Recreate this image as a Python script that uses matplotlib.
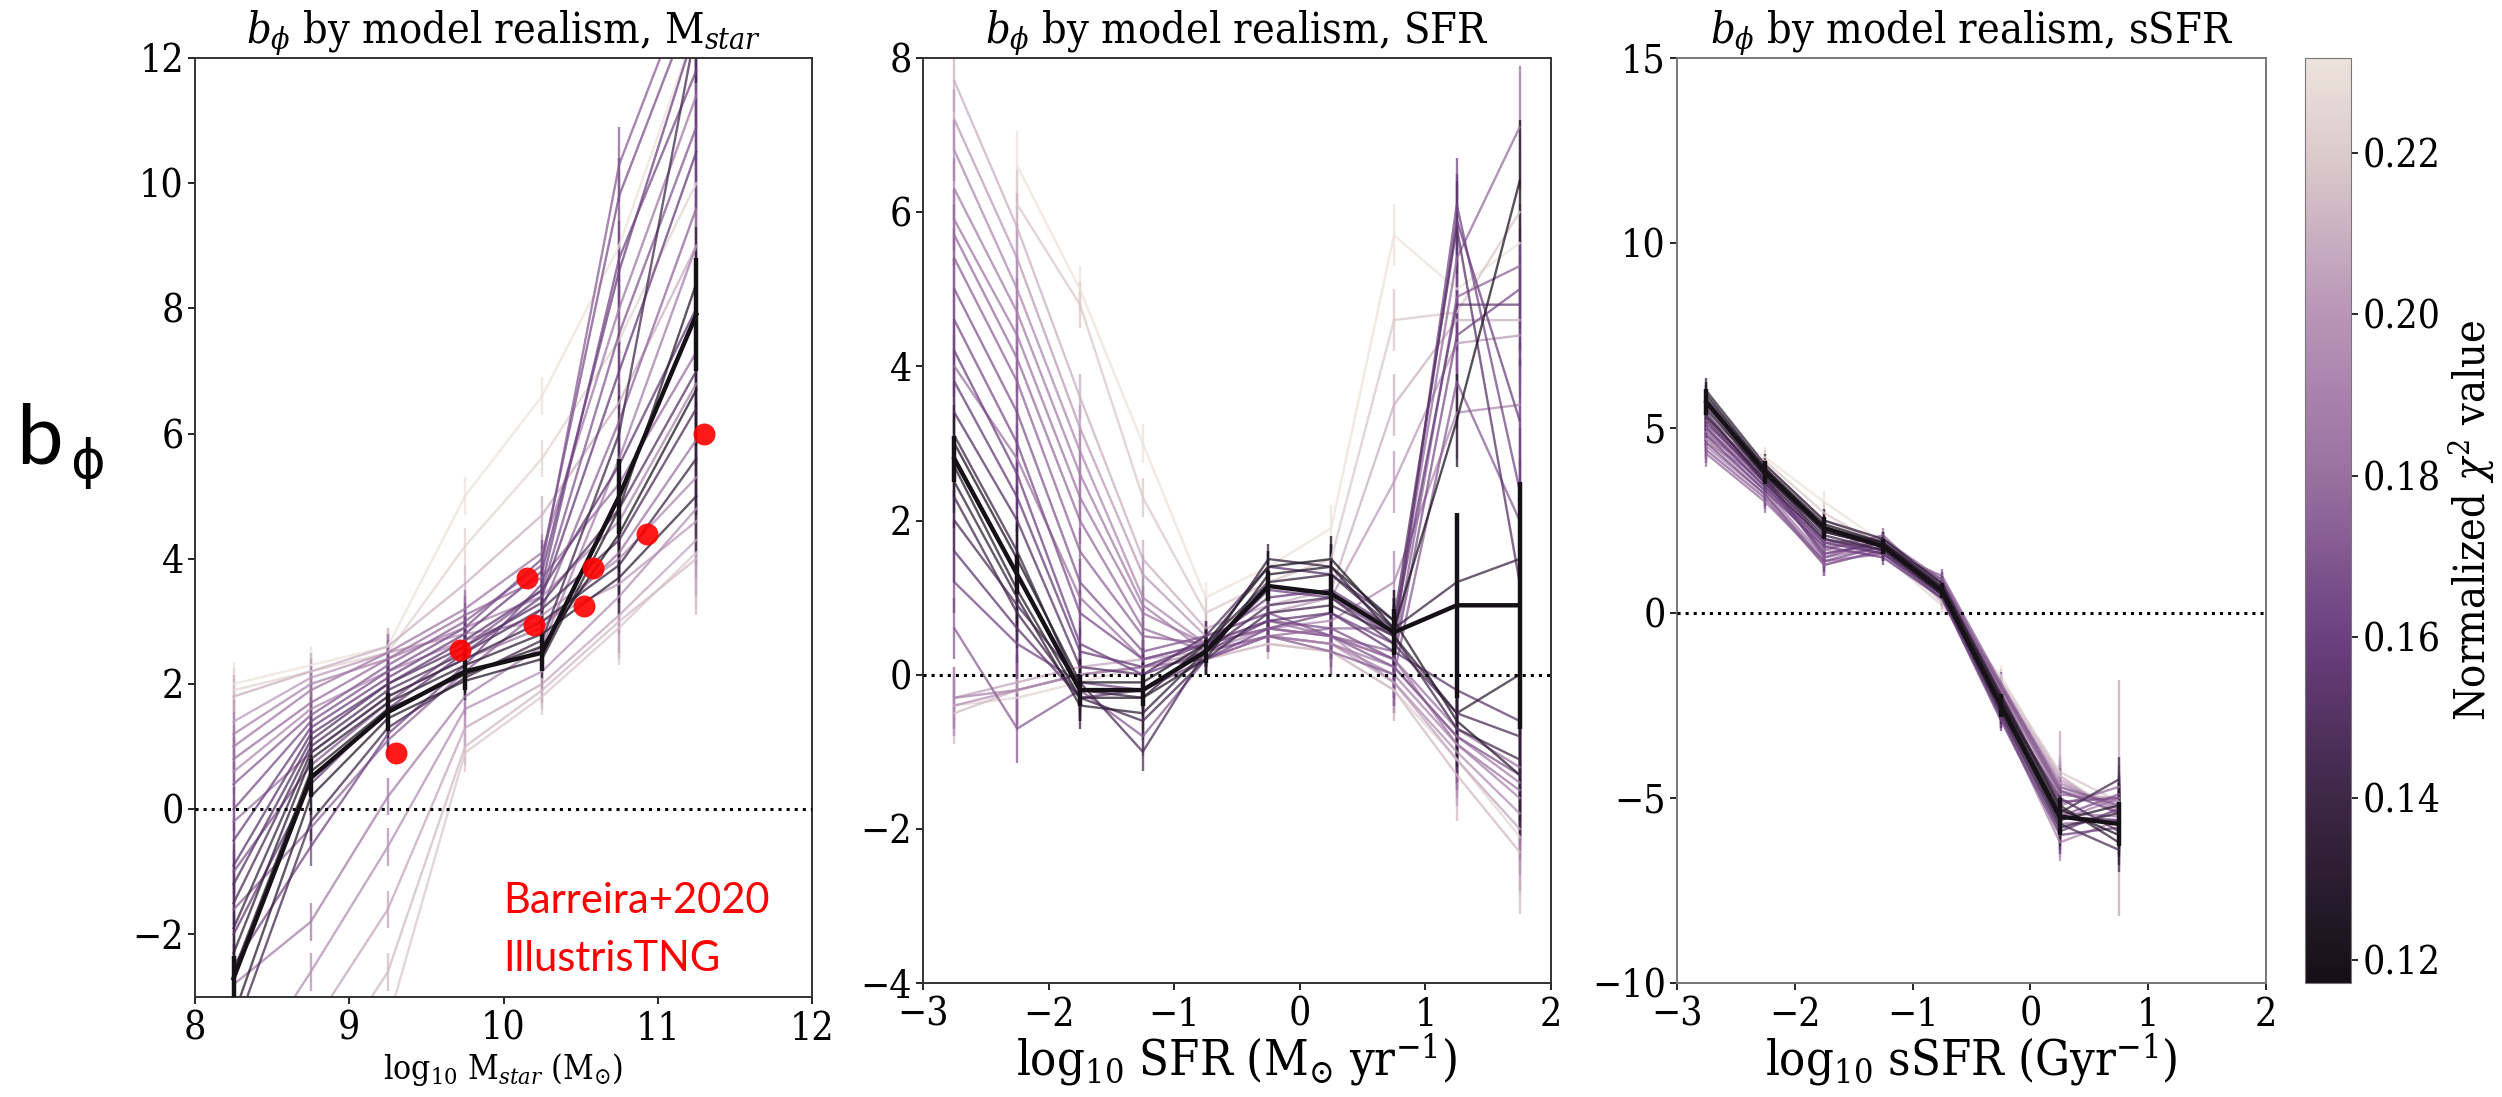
import numpy as np
import matplotlib
matplotlib.use("Agg")
import matplotlib.pyplot as plt
from matplotlib.colors import Normalize, LinearSegmentedColormap
from matplotlib.cm import ScalarMappable

plt.rcParams["font.family"] = "DejaVu Serif"
plt.rcParams["font.stretch"] = "condensed"
plt.rcParams["mathtext.fontset"] = "custom"
plt.rcParams["mathtext.rm"] = "DejaVu Serif:stretch=condensed"
plt.rcParams["mathtext.it"] = "DejaVu Serif:style=italic:stretch=condensed"
plt.rcParams["mathtext.bf"] = "DejaVu Serif:weight=bold:stretch=condensed"

# normalized chi^2 of each model (model 0 = best fit, drawn thick)
CHI2 = [0.118, 0.123, 0.129, 0.134, 0.139, 0.143, 0.147, 0.151, 0.155, 0.158,
        0.161, 0.164, 0.167, 0.170, 0.173, 0.176, 0.179, 0.182, 0.185, 0.188,
        0.191, 0.194, 0.198, 0.202, 0.206, 0.210, 0.214, 0.219, 0.225, 0.231]

# --- panel 1: stellar mass bins
MSTAR_X = [8.25, 8.75, 9.25, 9.75, 10.25, 10.75, 11.25]
MSTAR_B = [
    [-2.7, 0.5, 1.55, 2.2, 2.5, 5.0, 7.9],
    [-2.6, 0.6, 1.6, 2.15, 2.6, 4.4, 6.7],
    [-3.3, 0.2, 1.45, 2.05, 2.4, 4.8, 8.4],
    [-2.3, 0.8, 1.7, 2.3, 2.8, 3.7, 5.0],
    [-1.9, 0.9, 1.8, 2.4, 3.0, 3.9, 5.6],
    [-3.6, -0.2, 1.3, 2.1, 2.7, 6.0, 12.5],
    [-1.5, 1.0, 1.9, 2.5, 3.2, 4.3, 6.4],
    [-1.2, 1.1, 2.0, 2.6, 3.3, 4.8, 7.0],
    [-0.9, 1.2, 2.0, 2.7, 3.5, 5.5, 8.0],
    [-2.0, 0.4, 1.6, 2.5, 3.4, 7.0, 10.5],
    [-0.5, 1.3, 2.1, 2.8, 3.8, 8.6, 12.5],
    [-2.5, -0.6, 1.2, 2.3, 3.6, 8.8, 11.8],
    [0.0, 1.4, 2.2, 2.9, 4.0, 9.8, 13.0],
    [-1.0, 0.7, 1.7, 2.6, 3.5, 7.6, 10.9],
    [0.4, 1.5, 2.3, 3.0, 3.9, 10.3, 13.5],
    [-1.6, -0.3, 1.1, 2.2, 3.2, 6.2, 9.6],
    [0.8, 1.7, 2.4, 3.1, 3.7, 5.2, 7.3],
    [-0.2, 0.9, 1.8, 2.4, 2.9, 4.1, 5.9],
    [1.0, 1.9, 2.5, 3.2, 4.1, 8.0, 11.4],
    [-2.8, -1.8, 0.2, 1.8, 2.6, 5.6, 9.0],
    [1.2, 2.0, 2.4, 2.9, 3.4, 4.6, 6.8],
    [0.6, 1.6, 2.2, 2.7, 3.1, 4.0, 5.3],
    [-4.5, -2.6, -0.6, 1.6, 2.2, 3.4, 4.8],
    [1.4, 2.1, 2.5, 2.8, 3.0, 3.6, 4.6],
    [-5.5, -3.5, -1.6, 1.3, 2.0, 3.1, 4.3],
    [1.8, 2.2, 2.6, 3.6, 4.7, 6.5, 9.0],
    [-6.0, -4.5, -2.6, 1.0, 1.9, 3.0, 4.0],
    [-7.0, -5.5, -3.4, 0.9, 1.8, 2.9, 4.1],
    [1.9, 2.2, 2.5, 4.2, 5.6, 7.5, 10.0],
    [2.0, 2.3, 2.6, 5.0, 6.6, 9.0, 12.5],
]
MSTAR_ERR = [0.35, 0.3, 0.3, 0.3, 0.3, 0.6, 0.9]

# Barreira+2020 IllustrisTNG points
TNG_X = [9.3, 9.72, 10.15, 10.2, 10.52, 10.58, 10.93, 11.3]
TNG_B = [0.9, 2.55, 3.7, 2.95, 3.25, 3.85, 4.4, 6.0]

# --- panel 2: SFR bins
SFR_X = [-2.75, -2.25, -1.75, -1.25, -0.75, -0.25, 0.25, 0.75, 1.25, 1.75]
SFR_B = [
    [2.8, 1.3, -0.2, -0.2, 0.3, 1.15, 1.05, 0.55, 0.9, 0.9],
    [3.0, 1.5, -0.1, -0.1, 0.4, 1.4, 1.5, 0.6, 3.3, 6.4],
    [2.7, 1.1, -0.3, -0.3, 0.2, 1.3, 1.4, 0.7, -0.6, -1.3],
    [2.5, 1.0, -0.4, -0.5, 0.3, 1.5, 1.4, 0.5, -0.5, 0.0],
    [3.1, 1.6, -0.2, -0.3, 0.4, 1.2, 1.3, 0.6, 1.2, 1.5],
    [2.3, 0.8, -0.3, -0.6, 0.2, 0.8, 0.9, 0.5, -0.7, -1.1],
    [2.0, 0.9, -0.1, -1.0, 0.3, 0.9, 1.0, 0.4, -0.5, -0.8],
    [3.4, 2.0, 0.1, 0.0, 0.5, 1.4, 1.3, 0.7, 5.8, 1.2],
    [1.6, 0.6, -0.3, -0.2, 0.3, 0.7, 0.8, 0.3, -0.2, -0.6],
    [3.8, 2.3, 0.3, 0.1, 0.4, 1.0, 1.1, 0.6, 4.8, 4.8],
    [4.2, 2.6, 0.4, 0.0, 0.3, 1.1, 1.0, 0.5, 5.9, 3.3],
    [1.2, 0.4, -0.1, -0.2, 0.2, 0.6, 0.8, 0.4, 6.1, 2.4],
    [4.6, 3.0, 0.8, 0.2, 0.4, 0.7, 0.6, 0.2, 4.4, 5.0],
    [5.0, 3.4, 1.2, 0.3, 0.5, 0.8, 0.5, 0.1, -0.8, -1.3],
    [0.6, -0.7, -0.2, -0.8, 0.2, 0.5, 0.3, 0.0, 3.8, 2.0],
    [5.4, 3.8, 1.6, 0.5, 0.4, 0.6, 0.5, 0.3, 4.9, 5.3],
    [5.7, 4.1, 2.0, 0.6, 0.3, 0.5, 0.6, 0.6, 5.4, 7.1],
    [4.0, 2.8, 1.0, 0.2, 0.4, 0.7, 0.5, 0.2, -0.7, -1.2],
    [5.9, 4.4, 2.3, 0.8, 0.4, 0.6, 0.5, 0.2, -0.9, -1.5],
    [6.3, 4.7, 2.6, 0.9, 0.3, 0.5, 0.4, 0.1, -0.8, -1.4],
    [-0.3, -0.2, 0.0, 0.1, 0.2, 0.5, 0.4, 0.0, -0.9, -1.6],
    [6.8, 5.0, 2.9, 1.0, 0.4, 0.6, 0.7, 1.2, 3.4, 3.5],
    [-0.4, -0.2, 0.0, 0.1, 0.3, 0.6, 0.5, -0.1, -1.0, -1.8],
    [7.2, 5.4, 3.2, 1.3, 0.5, 0.8, 1.0, 2.5, 4.3, 4.4],
    [-0.3, -0.1, 0.1, 0.2, 0.3, 0.5, 0.4, -0.1, -1.1, -2.0],
    [7.7, 5.8, 3.6, 1.5, 0.6, 0.9, 1.1, 3.5, 4.6, 4.6],
    [-0.5, -0.2, 0.0, 0.1, 0.2, 0.4, 0.3, -0.2, -1.3, -2.3],
    [np.nan, 6.1, 4.8, 2.3, 0.8, 1.2, 1.5, 4.6, 4.7, 6.0],
    [-0.4, -0.3, -0.1, 0.1, 0.2, 0.4, 0.3, -0.2, -1.1, -2.1],
    [np.nan, 6.6, 5.0, 3.0, 1.0, 1.4, 1.9, 5.7, 5.0, 5.6],
]
SFR_ERR = [0.4, 0.45, 0.3, 0.25, 0.2, 0.2, 0.3, 0.4, 0.6, 0.8]
SFR_ERR_BEST = [0.3, 0.25, 0.2, 0.2, 0.15, 0.2, 0.25, 0.3, 1.2, 1.6]

# --- panel 3: sSFR bins
SSFR_X = [-2.75, -2.25, -1.75, -1.25, -0.75, -0.25, 0.25, 0.75]
SSFR_B = [
    [5.7, 3.8, 2.3, 1.8, 0.6, -2.5, -5.5, -5.7],
    [5.9, 3.9, 2.4, 1.9, 0.7, -2.3, -5.3, -6.0],
    [5.5, 3.7, 2.2, 1.8, 0.5, -2.6, -5.6, -5.2],
    [6.0, 4.0, 2.5, 2.0, 0.8, -2.2, -5.2, -6.2],
    [5.3, 3.6, 2.1, 1.7, 0.5, -2.7, -5.8, -5.4],
    [5.8, 3.9, 2.3, 1.9, 0.6, -2.4, -5.4, -4.5],
    [5.4, 3.5, 2.0, 1.7, 0.5, -2.5, -5.7, -6.4],
    [5.6, 3.7, 2.2, 1.8, 0.6, -2.4, -5.0, -5.9],
    [5.2, 3.5, 2.0, 1.6, 0.5, -2.6, -5.5, -5.6],
    [5.0, 3.4, 1.9, 1.6, 0.4, -2.8, -5.9, -5.3],
    [4.8, 3.3, 1.8, 1.5, 0.4, -2.9, -6.0, -5.8],
    [5.1, 3.6, 1.6, 1.9, 0.8, -2.3, -5.1, -5.0],
    [4.6, 3.2, 1.4, 1.8, 0.9, -2.0, -4.8, -5.4],
    [5.3, 3.7, 1.5, 2.0, 0.7, -2.6, -5.5, -4.9],
    [4.4, 3.1, 1.3, 1.7, 1.0, -1.9, -4.7, -5.2],
    [4.9, 3.4, 1.7, 2.1, 0.6, -2.7, -5.7, -5.6],
    [4.3, 3.0, 1.4, 1.6, 0.8, -2.2, -5.2, -4.7],
    [5.6, 3.9, 1.9, 2.0, 0.9, -2.1, -4.9, -5.1],
    [4.7, 3.3, 1.5, 1.8, 0.7, -2.4, -5.4, -5.5],
    [5.0, 3.5, 1.6, 1.9, 0.8, -2.5, -5.6, -5.0],
    [4.5, 3.2, 1.3, 1.7, 0.6, -2.8, -6.2, -5.6],
    [5.2, 3.6, 1.8, 1.9, 0.7, -2.0, -4.6, -5.3],
    [4.8, 3.7, 1.9, 1.7, 0.5, -2.2, -4.8, -5.2],
    [5.1, 3.9, 2.2, 1.8, 0.4, -2.0, -4.5, -5.4],
    [4.6, 3.6, 1.7, 1.6, 0.5, -2.3, -4.9, -5.0],
    [5.3, 4.0, 2.5, 1.9, 0.3, -1.9, -4.4, -5.5],
    [4.9, 3.8, 2.0, 1.7, 0.4, -2.1, -4.7, -5.3],
    [5.0, 4.1, 2.7, 1.8, 0.3, -1.8, -4.3, -5.1],
    [4.7, 3.9, 2.4, 1.6, 0.2, -2.0, -4.6, -5.2],
    [5.2, 4.2, 3.0, 1.9, 0.3, -1.7, -4.4, -5.4],
]
SSFR_ERR = [0.35, 0.3, 0.3, 0.2, 0.2, 0.3, 0.5, 0.6]
SSFR_ERR_WIDE = [0.4, 0.3, 0.4, 0.2, 0.2, 0.3, 1.7, 3.2]

# colour stops picked off the reference colourbar
CMAP_POS = [0.0, 0.025, 0.2, 0.374, 0.548, 0.723, 0.897, 1.0]
CMAP_HEX = ["#141016", "#19131a", "#3e2747", "#6c3f80", "#9a70a0",
            "#b895b8", "#dccbcb", "#ece3dc"]

W, H = 2502, 1097
fig = plt.figure(figsize=(W / 100, H / 100), dpi=100)


def px_axes(x0, x1, y0, y1):
    return fig.add_axes([x0 / W, 1 - y1 / H, (x1 - x0) / W, (y1 - y0) / H])


ax1 = px_axes(195, 812, 58, 997)
ax2 = px_axes(923, 1551, 58, 983)
ax3 = px_axes(1677, 2266, 58, 983)
cax = px_axes(2305, 2351, 58, 983)

cmap = LinearSegmentedColormap.from_list("realism", list(zip(CMAP_POS, CMAP_HEX)))
norm = Normalize(vmin=0.1171, vmax=0.2318)
order = np.argsort(CHI2)[::-1]


def draw_models(ax, xs, rows, err, special=None):
    special = special or {}
    for i in order:
        y = np.array(rows[i], dtype=float)
        e = special.get(i, err)
        best = i == 0
        lw = 3.2 if best else 1.7
        ax.errorbar(xs, y, yerr=e, color=cmap(norm(CHI2[i])), lw=lw,
                    elinewidth=lw, capsize=0, alpha=1.0 if best else 0.75,
                    zorder=4 if best else 2)
    ax.axhline(0, color="k", ls=":", lw=2.2, zorder=3)


draw_models(ax1, MSTAR_X, MSTAR_B, MSTAR_ERR)
ax1.scatter(TNG_X, TNG_B, s=250, color="red", alpha=0.9, lw=0, zorder=5)
fig.text(503 / W, 1 - 901 / H, "Barreira+2020", color="red",
         fontsize=30, family="Lato", stretch="normal", va="center")
fig.text(503 / W, 1 - 959 / H, "IllustrisTNG", color="red",
         fontsize=30, family="Lato", stretch="normal", va="center")

draw_models(ax2, SFR_X, SFR_B, SFR_ERR, {0: SFR_ERR_BEST})
draw_models(ax3, SSFR_X, SSFR_B, SSFR_ERR, {24: SSFR_ERR_WIDE})

TITLE_FS = 31
TICK_FS = 28
XLAB_FS = 35

ax1.set_xlim(8, 12)
ax1.set_ylim(-3, 12)
ax1.set_xticks([8, 9, 10, 11, 12])
ax1.set_yticks([-2, 0, 2, 4, 6, 8, 10, 12])
ax1.set_title(r"$b_\phi$ by model realism, M$_{star}$", fontsize=TITLE_FS, pad=4)
ax1.set_xlabel(r"log$_{10}$ M$_{star}$ (M$_{\odot}$)", fontsize=24, labelpad=2)

ax2.set_xlim(-3, 2)
ax2.set_ylim(-4, 8)
ax2.set_xticks([-3, -2, -1, 0, 1, 2])
ax2.set_yticks([-4, -2, 0, 2, 4, 6, 8])
ax2.set_title(r"$b_\phi$ by model realism, SFR", fontsize=TITLE_FS, pad=4)
ax2.set_xlabel(r"log$_{10}$ SFR (M$_{\odot}$ yr$^{-1}$)", fontsize=XLAB_FS,
               labelpad=-2)

ax3.set_xlim(-3, 2)
ax3.set_ylim(-10, 15)
ax3.set_xticks([-3, -2, -1, 0, 1, 2])
ax3.set_yticks([-10, -5, 0, 5, 10, 15])
ax3.set_title(r"$b_\phi$ by model realism, sSFR", fontsize=TITLE_FS, pad=4)
ax3.set_xlabel(r"log$_{10}$ sSFR (Gyr$^{-1}$)", fontsize=XLAB_FS, labelpad=-2)

for ax in (ax1, ax2, ax3):
    ax.tick_params(labelsize=TICK_FS, length=5, width=1.2)
    ax.tick_params(axis="x", pad=5)
    ax.tick_params(axis="y", pad=3)
    for s in ax.spines.values():
        s.set_color("#333333")
        s.set_linewidth(1.4)
for s in ax3.spines.values():
    s.set_color("#777777")

sm = ScalarMappable(norm=norm, cmap=cmap)
cb = fig.colorbar(sm, cax=cax)
cb.set_ticks([0.12, 0.14, 0.16, 0.18, 0.20, 0.22])
cb.ax.tick_params(labelsize=TICK_FS, length=5, width=1.2)
cb.outline.set_edgecolor("#777777")
cb.set_label(r"Normalized $\chi^2$ value", fontsize=31, labelpad=4)

fig.text(16 / W, 1 - 463 / H, "b", fontsize=60, family="Lato",
         stretch="normal", va="baseline")
fig.text(70 / W, 1 - 478 / H, "ϕ", fontsize=38, family="DejaVu Sans",
         stretch="normal", va="baseline")

fig.savefig("out.png", dpi=100)
